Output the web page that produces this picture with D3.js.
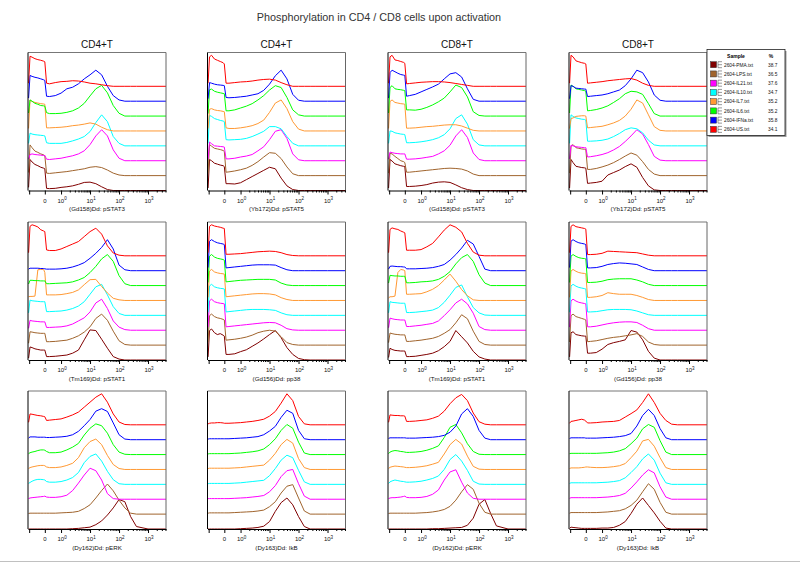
<!DOCTYPE html>
<html><head><meta charset="utf-8">
<script src="https://cdn.jsdelivr.net/npm/d3@7"></script>
<style>body{margin:0;background:#fff}svg{display:block;font-family:"Liberation Sans",Arial,sans-serif}</style>
</head><body><svg id="c" width="800" height="566"></svg>
<script>
// ---------- data ----------
const title = "Phosphorylation in CD4 / CD8 cells upon activation";
const cellTypes = ["CD4+T","CD4+T","CD8+T","CD8+T"];
const markerLabels = [
  ["(Gd158)Dd: pSTAT3","(Yb172)Dd: pSTAT5","(Gd158)Dd: pSTAT3","(Yb172)Dd: pSTAT5"],
  ["(Tm169)Dd: pSTAT1","(Gd156)Dd: pp38","(Tm169)Dd: pSTAT1","(Gd156)Dd: pp38"],
  ["(Dy162)Dd: pERK","(Dy163)Dd: IkB","(Dy162)Dd: pERK","(Dy163)Dd: IkB"]
];
// legend order (top to bottom)
const samples = ["2604-PMA.txt","2604-LPS.txt","2604-IL21.txt","2604-IL10.txt","2604-IL7.txt","2604-IL6.txt","2604-IFNa.txt","2604-US.txt"];
const percents = ["38.7","36.5","37.6","34.7","35.2","35.2","35.8","34.1"];
const sampleColors = ["#800000","#a0642d","#ff00ff","#00ffff","#ff9933","#00ff00","#0000ff","#ff0000"];
// histogram bin positions (log10 of intensity; "0" sits at -0.56 on this display)
const xLog = [-1.12,-1.07,-1.0,-0.9,-0.8,-0.7,-0.6,-0.56,-0.5,-0.4,-0.2,0,0.2,0.4,0.6,0.8,1.0,1.2,1.4,1.6,1.8,2.0,2.2,2.4,2.6,3.0,3.62];
const tickValues = [-0.56,0,1,2,3];
const tickLabels = [["0",""],["10","0"],["10","1"],["10","2"],["10","3"]];

// each panel: series in order US, IFNa, IL6, IL7, IL10, IL21, LPS, PMA (% of mode)
const r1c1 = [
 [10,97,94,89,86,84,81,79,10,8,12,15,16,18,17,14,10,8,5,2,0,0,0,0,0,0,0],
 [10,83,80,77,75,72,69,67,16,15,18,26,40,45,56,72,85,100,85,48,18,4,0,0,0,0,0],
 [10,52,48,41,38,34,33,32,11,8,8,9,12,17,26,41,65,88,99,75,34,9,0,0,0,0,0],
 [8,100,95,92,90,88,87,86,10,10,11,12,14,17,19,22,26,22,12,4,0,0,0,0,0,0,0],
 [8,41,38,36,35,34,33,32,10,8,8,8,11,16,22,30,46,75,100,78,30,8,0,0,0,0,0],
 [5,20,22,20,19,18,17,17,5,4,6,8,12,16,22,32,52,80,100,80,35,8,0,0,0,0,0],
 [10,99,90,79,75,70,67,64,8,7,9,11,13,16,19,22,27,29,26,18,8,2,0,0,0,0,0],
 [10,100,92,84,80,75,72,70,7,6,7,10,12,15,20,26,27,22,12,3,0,0,0,0,0,0,0]];
const r1c2 = [
 [10,95,100,88,84,80,76,72,10,10,12,14,15,17,20,22,23,20,12,5,0,0,0,0,0,0,0],
 [8,60,58,55,53,52,51,50,12,11,12,14,16,20,24,35,55,82,100,72,22,3,0,0,0,0,0],
 [8,85,87,80,77,75,73,72,17,17,20,26,32,40,52,66,84,98,92,60,20,4,0,0,0,0,0],
 [8,70,72,68,66,65,63,62,10,8,8,10,13,17,24,35,60,90,100,72,30,6,0,0,0,0,0],
 [8,98,95,88,85,82,80,78,20,19,20,21,24,30,38,47,62,62,55,30,8,0,0,0,0,0,0],
 [5,60,55,48,47,46,45,44,6,6,8,12,15,20,32,45,68,95,100,72,22,3,0,0,0,0,0],
 [8,100,95,88,86,84,81,78,11,12,15,19,24,33,45,60,74,72,55,28,6,0,0,0,0,0,0],
 [8,100,96,88,85,82,80,77,22,22,21,25,35,45,55,65,75,70,40,15,3,0,0,0,0,0,0]];
const r1c3 = [
 [10,95,100,85,83,80,77,74,8,9,11,13,14,15,15,14,12,9,6,3,0,0,0,0,0,0,0],
 [10,92,100,95,90,86,84,83,16,18,22,30,38,46,55,72,88,92,78,40,6,0,0,0,0,0,0],
 [10,92,98,88,86,85,83,82,20,20,19,22,28,36,46,58,78,100,92,62,14,2,0,0,0,0,0],
 [8,95,100,92,90,88,87,86,9,9,10,12,14,15,17,19,20,20,16,9,2,0,0,0,0,0,0],
 [8,48,47,42,40,38,37,36,10,10,11,13,16,20,26,36,55,88,100,70,20,3,0,0,0,0,0],
 [5,28,26,24,23,22,22,22,5,5,6,8,11,14,22,32,50,80,100,75,25,4,0,0,0,0,0],
 [8,72,70,62,55,48,45,42,11,11,13,15,17,19,21,23,24,23,21,15,5,0,0,0,0,0,0],
 [8,100,95,86,83,80,78,77,13,13,14,16,19,24,27,28,26,18,9,3,0,0,0,0,0,0,0]];
const r1c4 = [
 [10,100,95,82,79,76,74,72,10,11,13,15,18,20,22,24,25,20,10,3,0,0,0,0,0,0,0],
 [8,50,48,42,41,40,39,39,15,16,18,20,24,30,36,50,72,100,92,62,20,3,0,0,0,0,0],
 [10,100,96,88,86,84,82,80,17,18,21,26,33,44,56,72,80,78,70,40,8,0,0,0,0,0,0],
 [8,40,42,47,48,49,49,48,10,11,13,15,20,26,34,48,70,100,90,52,14,2,0,0,0,0,0],
 [8,100,95,90,88,86,85,83,15,15,16,18,22,30,40,52,58,55,42,18,3,0,0,0,0,0,0],
 [6,50,48,45,44,43,42,42,12,13,16,20,26,35,46,62,80,100,86,52,14,2,0,0,0,0,0],
 [8,95,100,90,88,86,85,84,20,20,23,28,34,42,52,63,73,66,45,20,5,0,0,0,0,0,0],
 [8,100,90,78,76,74,73,72,23,24,26,30,50,58,66,77,86,75,42,15,2,0,0,0,0,0,0]];
const r2c1 = [
 [10,95,100,97,93,84,80,78,19,17,17,22,30,38,46,62,78,89,70,32,9,2,0,0,0,0,0],
 [5,8,8,8,8,7,7,6,5,5,5,6,8,12,18,26,40,56,75,100,70,18,3,0,0,0,0],
 [5,17,17,16,16,15,15,15,6,6,7,8,9,12,18,26,42,62,86,100,78,32,6,0,0,0,0],
 [12,13,13,14,99,100,100,90,18,18,18,19,22,26,34,51,67,68,45,24,7,2,0,0,0,0,0],
 [8,49,47,46,45,44,44,44,12,12,13,14,17,22,30,44,68,92,100,66,28,6,0,0,0,0,0],
 [6,32,30,29,28,27,27,27,9,9,10,11,14,20,30,40,59,88,100,70,30,10,2,0,0,0,0],
 [6,43,42,40,39,38,38,38,11,11,12,14,16,22,30,42,59,86,100,80,45,14,2,0,0,0,0],
 [6,42,40,36,34,32,32,32,11,11,12,14,16,22,32,65,97,95,67,38,11,3,0,0,0,0,0]];
const r2c2 = [
 [10,95,100,96,94,92,89,88,5,5,6,7,9,11,13,14,15,14,10,4,1,0,0,0,0,0,0],
 [10,95,100,94,90,88,86,84,9,10,12,14,16,18,19,19,19,18,10,3,0,0,0,0,0,0,0],
 [10,95,100,92,88,86,84,82,12,13,15,17,18,19,20,20,20,18,8,2,0,0,0,0,0,0,0],
 [10,95,100,92,89,87,86,85,12,13,15,17,19,21,22,22,21,18,9,3,0,0,0,0,0,0,0],
 [10,95,100,92,89,87,86,85,11,12,14,16,18,19,19,19,18,16,8,2,0,0,0,0,0,0,0],
 [10,95,100,92,89,87,86,85,11,12,14,16,18,20,22,24,25,24,16,5,1,0,0,0,0,0,0],
 [10,95,100,92,88,86,83,81,16,17,19,22,26,32,40,45,48,45,27,8,2,0,0,0,0,0,0],
 [10,95,100,88,82,85,80,77,18,18,20,27,33,44,55,68,82,95,72,40,18,5,1,0,0,0,0]];
const r2c3 = [
 [10,85,90,87,85,80,76,74,18,18,18,20,29,40,61,83,100,92,77,40,12,2,0,0,0,0,0],
 [5,14,15,14,13,13,12,12,6,6,6,7,8,10,14,20,34,52,73,98,86,46,5,0,0,0,0],
 [8,33,32,31,31,30,30,30,9,9,10,12,13,15,20,30,45,70,90,100,78,35,8,0,0,0,0],
 [8,12,12,14,90,100,98,96,20,20,21,22,28,36,48,66,85,62,35,15,2,0,0,0,0,0,0],
 [8,44,42,41,40,39,39,39,9,9,10,12,14,17,25,42,65,90,98,60,25,8,1,0,0,0,0],
 [8,39,37,35,34,33,33,33,12,12,14,16,19,22,30,47,66,88,100,85,55,12,2,0,0,0,0],
 [8,39,37,35,34,33,33,33,12,12,14,16,19,22,28,38,50,72,98,85,45,12,2,0,0,0,0],
 [8,38,34,31,30,29,29,29,11,11,12,15,18,22,30,43,60,95,75,55,28,10,3,0,0,0,0]];
const r2c4 = [
 [10,95,100,94,92,90,88,86,4,4,5,8,15,14,13,12,11,10,6,2,0,0,0,0,0,0,0],
 [10,95,100,94,90,88,86,84,9,9,10,14,20,23,25,24,22,20,12,4,0,0,0,0,0,0,0],
 [10,95,100,94,90,88,87,86,10,10,11,14,19,21,22,22,22,18,12,4,0,0,0,0,0,0,0],
 [10,95,100,94,90,88,87,86,10,10,12,16,25,22,20,20,20,16,10,3,0,0,0,0,0,0,0],
 [10,95,100,94,90,88,86,85,11,11,12,15,18,19,19,19,18,14,8,2,0,0,0,0,0,0,0],
 [10,95,100,94,90,88,86,85,11,11,13,17,21,24,26,27,27,25,16,5,0,0,0,0,0,0,0],
 [10,95,100,92,89,86,83,81,11,12,14,18,22,25,27,30,33,37,28,10,2,0,0,0,0,0,0],
 [10,88,91,82,80,78,77,77,22,22,24,35,50,56,60,65,95,90,65,28,6,0,0,0,0,0,0]];
const r3c1 = [
 [8,35,34,32,30,29,27,26,14,15,17,19,25,32,41,57,73,89,100,73,35,9,1,0,0,0,0],
 [5,9,9,9,8,8,8,8,7,7,8,9,11,16,27,45,65,92,100,91,54,16,2,0,0,0,0],
 [3,6,8,10,13,15,15,14,10,6,6,8,15,24,36,63,85,99,93,69,32,8,1,0,0,0,0],
 [3,6,8,10,12,13,13,12,8,6,6,8,13,20,38,70,90,98,80,45,16,3,0,0,0,0,0],
 [3,6,10,14,16,16,15,14,9,7,7,9,14,22,38,70,90,98,75,42,15,2,0,0,0,0,0],
 [2,4,5,6,7,8,9,10,7,6,6,8,13,28,52,78,100,92,62,18,2,0,0,0,0,0,0],
 [2,3,3,3,3,3,3,3,3,3,3,4,5,6,9,18,30,52,76,97,75,45,20,3,0,0,0],
 [0,0,0,0,0,0,0,0,0,0,0,0,0,1,2,4,6,14,26,45,68,95,88,40,8,0,0]];
const r3c2 = [
 [3,5,6,6,7,7,6,5,5,5,6,7,9,11,14,18,28,43,70,100,78,27,3,0,0,0,0],
 [2,3,3,3,3,3,3,3,3,3,4,5,6,8,10,16,28,43,72,95,85,30,3,0,0,0,0],
 [2,3,3,3,3,3,3,3,3,3,4,5,7,9,12,18,32,51,78,97,85,40,5,0,0,0,0],
 [3,4,4,4,4,4,4,4,4,4,5,6,8,10,12,14,30,52,80,97,85,35,6,0,0,0,0],
 [2,3,3,3,3,3,3,3,3,3,4,5,7,9,11,13,28,51,78,94,86,45,8,0,0,0,0],
 [2,2,2,2,2,2,2,2,2,2,3,4,5,7,9,12,24,44,73,92,96,50,10,0,0,0,0],
 [3,4,4,4,4,4,4,4,4,4,5,6,7,8,10,13,24,40,68,90,95,52,10,0,0,0,0],
 [0,0,0,0,0,0,0,0,0,0,0,1,2,3,5,9,24,57,85,100,78,40,8,0,0,0,0]];
const r3c3 = [
 [8,32,31,30,30,29,29,28,11,11,12,14,16,21,28,44,68,87,98,78,38,10,2,0,0,0,0],
 [4,6,6,6,6,6,6,6,5,5,5,6,7,8,10,14,24,44,83,100,75,30,5,0,0,0,0],
 [3,8,11,13,12,10,9,8,7,7,8,10,14,20,28,55,88,97,70,35,10,1,0,0,0,0,0],
 [3,7,9,11,10,9,8,7,6,6,7,9,12,17,23,50,80,97,82,43,10,1,0,0,0,0,0],
 [3,8,11,14,12,10,9,8,7,7,8,10,14,19,27,48,80,96,75,45,10,1,0,0,0,0,0],
 [2,4,5,5,6,7,9,10,6,5,5,6,9,16,30,62,88,95,55,20,3,0,0,0,0,0,0],
 [2,3,3,3,3,3,3,3,3,3,3,4,5,7,10,15,25,45,72,95,80,35,6,0,0,0,0],
 [0,0,0,0,0,0,0,0,0,0,0,0,0,1,1,2,3,4,5,12,35,80,95,50,10,0,0]];
const r3c4 = [
 [5,11,12,14,16,18,15,12,6,6,7,9,10,11,14,25,36,48,72,100,72,37,14,2,0,0,0],
 [4,6,6,6,6,6,6,5,5,5,5,6,7,8,10,13,20,44,78,98,78,36,6,0,0,0,0],
 [3,4,4,4,4,4,4,4,4,4,4,5,6,8,12,19,35,53,83,97,88,45,8,0,0,0,0],
 [3,5,5,5,5,6,7,8,8,7,6,6,7,9,12,19,38,59,92,97,75,38,6,0,0,0,0],
 [3,5,5,5,5,5,5,5,5,5,5,6,7,9,12,21,38,57,82,98,78,36,5,0,0,0,0],
 [3,5,5,5,5,5,5,5,5,5,5,6,7,9,12,19,36,56,78,95,85,40,7,0,0,0,0],
 [3,5,5,5,5,5,5,5,5,5,5,6,7,9,11,17,28,45,72,98,80,38,6,0,0,0,0],
 [2,6,5,4,3,2,2,2,2,2,2,3,3,5,12,24,50,80,100,76,52,25,3,0,0,0,0]];
const panels = [[r1c1,r1c2,r1c3,r1c4],[r2c1,r2c2,r2c3,r2c4],[r3c1,r3c2,r3c3,r3c4]];
// series order inside each panel -> legend color index
const seriesColorIdx = [7,6,5,4,3,2,1,0];

// ---------- layout ----------
const svg = d3.select("#c");
const pw = 138, ph = 138;
const colX = [28, 207.5, 388, 569];
const rowY = [52.5, 222, 391];
const x = d3.scaleLinear().domain([-1.14, 3.62]).range([0, pw]);
const y = d3.scaleLinear().domain([0, 445]).range([ph, 0]);
const step = 48;
const minorTicks = [];
for (let d = 0; d <= 3; d++) for (let k = 2; k <= 9; k++) { const v = d + Math.log10(k); if (v < 3.62) minorTicks.push(v); }

svg.append("text").attr("x", 379).attr("y", 21).attr("text-anchor","middle")
  .attr("font-size", 10.8).attr("fill", "#333").text(title);

svg.append("line").attr("x1",0).attr("x2",800).attr("y1",561.5).attr("y2",561.5)
  .attr("stroke","#c0c0c0").attr("stroke-width",1);

panels.forEach((row, r) => {
  row.forEach((series, c) => {
    const g = svg.append("g").attr("transform", `translate(${colX[c]},${rowY[r]})`);
    if (r === 0) {
      g.append("text").attr("x", pw/2).attr("y", -5).attr("text-anchor","middle")
        .attr("font-size", 10).attr("fill","#111").text(cellTypes[c]);
    }
    // curves: draw bottom (PMA) first
    for (let i = series.length - 1; i >= 0; i--) {
      const off = (series.length - 1 - i) * step;
      const line = d3.line().x((d, j) => x(xLog[j])).y(d => y(d + off));
      g.append("path").attr("d", line(series[i])).attr("fill","none")
        .attr("stroke", sampleColors[seriesColorIdx[i]]).attr("stroke-width", 1)
        .attr("stroke-linejoin","round");
    }
    // frame
    g.append("line").attr("x1",0).attr("x2",pw).attr("y1",0).attr("y2",0).attr("stroke","#777");
    g.append("line").attr("x1",pw).attr("x2",pw).attr("y1",0).attr("y2",ph).attr("stroke","#666");
    g.append("line").attr("x1",0).attr("x2",0).attr("y1",0).attr("y2",ph).attr("stroke","#000");
    // axis
    const axG = g.append("g").attr("transform", `translate(0,${ph})`);
    axG.call(d3.axisBottom(x).tickValues([-1.1].concat(tickValues)).tickSize(4).tickSizeOuter(0).tickFormat(""));
    axG.append("g").call(d3.axisBottom(x).tickValues(minorTicks).tickSize(2).tickSizeOuter(0).tickFormat(""))
      .select(".domain").remove();
    axG.selectAll("line").attr("stroke","#000");
    axG.selectAll(".domain").attr("stroke","#000");
    tickValues.forEach((v, k) => {
      const t = axG.append("text").attr("x", x(v) + (tickLabels[k][1] ? 1 : 0)).attr("y", 12)
        .attr("text-anchor","middle").attr("font-size", 6).attr("fill","#111");
      t.append("tspan").text(tickLabels[k][0]);
      if (tickLabels[k][1]) t.append("tspan").attr("dy", -2.5).attr("font-size", 4.5).text(tickLabels[k][1]);
    });
    axG.append("text").attr("x", pw/2).attr("y", 20.5).attr("text-anchor","middle")
      .attr("font-size", 6.2).attr("fill","#111").text(markerLabels[r][c]);
  });
});

// ---------- legend ----------
const lg = svg.append("g").attr("transform","translate(707,49.5)");
lg.append("rect").attr("x",1.5).attr("y",1.5).attr("width",78).attr("height",86).attr("fill","#999");
lg.append("rect").attr("x",0).attr("y",0).attr("width",78).attr("height",86).attr("fill","#fff")
  .attr("stroke","#222").attr("stroke-width",0.8);
lg.append("text").attr("x",29).attr("y",8).attr("text-anchor","middle").attr("font-size",5)
  .attr("font-weight","bold").text("Sample");
lg.append("text").attr("x",64).attr("y",8).attr("text-anchor","middle").attr("font-size",5)
  .attr("font-weight","bold").text("%");
samples.forEach((s, i) => {
  const cy = 15.2 + i * 9.24;
  lg.append("rect").attr("x",3.5).attr("y",cy-3).attr("width",6).attr("height",6)
    .attr("fill", sampleColors[i]).attr("stroke","#333").attr("stroke-width",0.5);
  const ic = lg.append("g").attr("stroke","#333").attr("stroke-width",0.5);
  ic.append("line").attr("x1",11).attr("x2",11).attr("y1",cy-3).attr("y2",cy+3);
  [-3,0,3].forEach(dy => ic.append("line").attr("x1",11).attr("x2",15).attr("y1",cy+dy).attr("y2",cy+dy));
  lg.append("text").attr("x",17).attr("y",cy+1.8).attr("font-size",4.8).attr("fill","#111").text(s);
  lg.append("text").attr("x",61).attr("y",cy+1.8).attr("font-size",4.8).attr("fill","#111").text(percents[i]);
});
</script>
</body></html>
